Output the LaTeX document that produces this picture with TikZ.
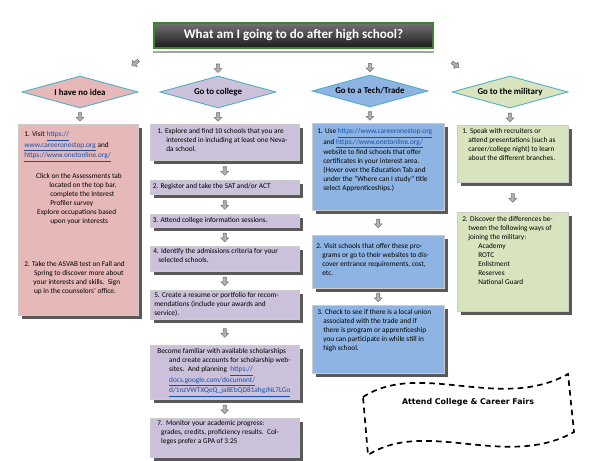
\documentclass[tikz,border=0pt]{standalone}
\usepackage{fontspec}
\setmainfont{Carlito}
\newfontfamily\fairfont{DejaVu Sans}
\usetikzlibrary{shapes,arrows,positioning,calc,shadows}
\definecolor{ideapink}{RGB}{230,185,184}
\definecolor{collegelilac}{RGB}{204,193,218}
\definecolor{techblue}{RGB}{142,180,227}
\definecolor{militarygreen}{RGB}{215,228,189}
\definecolor{diamondteal}{RGB}{75,172,198}
\definecolor{linkblue}{RGB}{20,80,175}
\definecolor{titlegreen}{RGB}{60,130,50}
\newcommand{\weblink}[1]{\textcolor{linkblue}{\underline{#1}}}

\begin{document}
\begin{tikzpicture}[x=0.025cm, y=-0.025cm,
    titlebox/.style={rectangle, draw=titlegreen, line width=0.8pt, top color=black!55, bottom color=black!90,
        minimum width=6.975cm, minimum height=0.625cm, text=white, font=\fontsize{9.3}{11}\selectfont\bfseries},
    choice/.style={diamond, draw=diamondteal, line width=0.6pt, aspect=3.6, minimum width=2.9cm,
        minimum height=0.8cm, inner sep=0pt, font=\fontsize{6.3}{7}\selectfont\bfseries},
    card/.style={rectangle, draw=black!20, line width=0.3pt, anchor=north west, inner sep=0pt,
        drop shadow={shadow xshift=2.5pt, shadow yshift=-2.5pt, fill=black!65, opacity=1}},
    cardtext/.style={anchor=north west, align=left, inner sep=0pt, font=\fontsize{5.2}{6.4}\selectfont},
    flowarrow/.style={single arrow, draw=black!55, fill=black!30, line width=0.4pt, minimum height=6pt,
        inner sep=0.9pt, single arrow head extend=1.6pt, sloped, allow upside down}]
    \useasboundingbox (0,0) rectangle (600,461);

    % Title
    \node[titlebox] (title) at (293.5,35.5) {What am I going to do after high school?};
    \draw[black!35, line width=1.2pt] ([yshift=-2.4pt]title.south west) -- ([yshift=-2.4pt]title.south east);

    % The four choices
    \node[choice, fill=ideapink] (idea) at (80,92) {I have no idea};
    \node[choice, fill=collegelilac] (college) at (218,92) {Go to college};
    \node[choice, fill=techblue] (tech) at (370,91) {Go to a Tech/Trade};
    \node[choice, fill=militarygreen] (military) at (510,92) {Go to the military};

    % Arrows from the title
    \path (title.south west) -- node[flowarrow, pos=0.4] {} (idea.north east);
    \path (title.south -| college.north) -- node[flowarrow, pos=0.7] {} (college.north);
    \path (title.south -| tech.north) -- node[flowarrow, pos=0.7] {} (tech.north);
    \path (title.south east) -- node[flowarrow, pos=0.45] {} (military.north west);

    % I have no idea
    \node[card, fill=ideapink, minimum width=3cm, minimum height=4.775cm] (ideabox) at (18,124) {};
    \node[cardtext] (ideatxt) at ([shift={(6,7.5)}]ideabox.north west) {1. Visit \weblink{https://}\\
        \weblink{www.careeronestop.org} and\\
        \weblink{https://www.onetonline.org/}\\[7pt]
        \hspace*{8.5pt}Click on the Assessments tab\\
        \hspace*{17.8pt}located on the top bar.\\
        \hspace*{18.5pt}complete the Interest\\
        \hspace*{18.5pt}Profiler survey\\
        \hspace*{9.2pt}Explore occupations based\\
        \hspace*{18.5pt}upon your interests\\[24pt]
        2. Take the ASVAB test on Fall and\\
        \hspace*{7pt}Spring to discover more about\\
        \hspace*{6.5pt}your interests and skills.\ \ Sign\\
        \hspace*{7pt}up in the counselors' office.};
    \path (idea.south) -- node[flowarrow] {} (idea.south |- ideabox.north);

    % Go to college
    \node[card, fill=collegelilac, minimum width=3.725cm, minimum height=0.9cm] (col1) at (150,124) {};
    \node[cardtext] (col1txt) at ([shift={(7,4.5)}]col1.north west) {1. Explore and find 10 schools that you are\\
        \hspace*{6.4pt}interested in including at least one Neva-\\
        \hspace*{6.4pt}da school.};
    \node[card, fill=collegelilac, minimum width=3.725cm, minimum height=0.35cm] (col2) at (150,180) {};
    \node[cardtext] (col2txt) at ([shift={(2.5,3.5)}]col2.north west) {2. Register and take the SAT and/or ACT};
    \node[card, fill=collegelilac, minimum width=3.725cm, minimum height=0.325cm] (col3) at (150,214) {};
    \node[cardtext] (col3txt) at ([shift={(2.5,3.2)}]col3.north west) {3. Attend college information sessions.};
    \node[card, fill=collegelilac, minimum width=3.725cm, minimum height=0.625cm] (col4) at (150,246) {};
    \node[cardtext] (col4txt) at ([shift={(3,2.4)}]col4.north west) {4. Identify the admissions criteria for your\\
        \hspace*{3.6pt}selected schools.};
    \node[card, fill=collegelilac, minimum width=3.725cm, minimum height=0.725cm] (col5) at (150,290) {};
    \node[cardtext] (col5txt) at ([shift={(4,2)}]col5.north west) {5. Create a resume or portfolio for recom-\\
        mendations (include your awards and\\
        service).};
    \node[card, fill=collegelilac, minimum width=3.725cm, minimum height=1.35cm] (col6) at (150,345) {};
    \node[cardtext] (col6txt) at ([shift={(7,3.5)}]col6.north west) {Become familiar with available scholarships\\
        \hspace*{8.5pt}and create accounts for scholarship web-\\
        \hspace*{8.5pt}sites.\ \ And planning \ \weblink{https://}\\
        \hspace*{8.5pt}\weblink{docs.google.com/document/}\\
        \hspace*{8.5pt}\weblink{d/1nzVWTXQeQ\_ja8EbQD81ahgJNL7LGo}};
    \node[card, fill=collegelilac, minimum width=3.725cm, minimum height=0.975cm] (col7) at (150,418) {};
    \node[cardtext] (col7txt) at ([shift={(7,2)}]col7.north west) {7.\ \ Monitor your academic progress:\\
        \hspace*{2.8pt}grades, credits, proficiency results.\ \ Col-\\
        \hspace*{2.8pt}leges prefer a GPA of 3.25};
    \path (college.south) -- node[flowarrow] {} (college.south |- col1.north);
    \path (col1.south) -- node[flowarrow] {} (col2.north);
    \path (col2.south) -- node[flowarrow] {} (col3.north);
    \path (col3.south) -- node[flowarrow] {} (col4.north);
    \path (col4.south) -- node[flowarrow] {} (col5.north);
    \path (col5.south) -- node[flowarrow] {} (col6.north);
    \path (col6.south) -- node[flowarrow] {} (col7.north);

    % Go to a Tech/Trade
    \node[card, fill=techblue, minimum width=3.3cm, minimum height=2.175cm] (tech1) at (312,123) {};
    \node[cardtext] (tech1txt) at ([shift={(5,5.5)}]tech1.north west) {1. Use \weblink{https://www.careeronestop.org}\\
        \hspace*{4.3pt}and \weblink{https://www.onetonline.org/}\\
        \hspace*{4.3pt}website to find schools that offer\\
        \hspace*{4.3pt}certificates in your interest area.\\
        \hspace*{4.3pt}(Hover over the Education Tab and\\
        \hspace*{4.3pt}under the ``Where can I study'' title\\
        \hspace*{4.3pt}select Apprenticeships.)};
    \node[card, fill=techblue, minimum width=3.3cm, minimum height=1.325cm] (tech2) at (312,235) {};
    \node[cardtext] (tech2txt) at ([shift={(4,8.5)}]tech2.north west) {2. Visit schools that offer these pro-\\
        \hspace*{4.3pt}grams or go to their websites to dis-\\
        \hspace*{4.3pt}cover entrance requirements, cost,\\
        \hspace*{4.3pt}etc.};
    \node[card, fill=techblue, minimum width=3.3cm, minimum height=1.7cm] (tech3) at (312,305) {};
    \node[cardtext] (tech3txt) at ([shift={(5,4.5)}]tech3.north west) {3. Check to see if there is a local union\\
        \hspace*{4.3pt}associated with the trade and if\\
        \hspace*{4.3pt}there is program or apprenticeship\\
        \hspace*{4.3pt}you can participate in while still in\\
        \hspace*{4.3pt}high school.};
    \path (tech.south) -- node[flowarrow] {} (tech.south |- tech1.north);
    \path (tech1.south) -- node[flowarrow] {} (tech2.north);
    \path (tech2.south) -- node[flowarrow] {} (tech3.north);

    % Go to the military
    \node[card, fill=militarygreen, minimum width=2.775cm, minimum height=1.425cm] (mil1) at (457,125) {};
    \node[cardtext] (mil1txt) at ([shift={(5,3.5)}]mil1.north west) {1. Speak with recruiters or\\
        \hspace*{4.3pt}attend presentations (such as\\
        \hspace*{4.3pt}career/college night) to learn\\
        \hspace*{4.3pt}about the different branches.};
    \node[card, fill=militarygreen, minimum width=2.775cm, minimum height=2.475cm] (mil2) at (457,212) {};
    \node[cardtext] (mil2txt) at ([shift={(5,4.5)}]mil2.north west) {2. Discover the differences be-\\
        \hspace*{4.3pt}tween the following ways of\\
        \hspace*{4.3pt}joining the military:\\
        \hspace*{11.4pt}Academy\\
        \hspace*{11.4pt}ROTC\\
        \hspace*{11.4pt}Enlistment\\
        \hspace*{11.4pt}Reserves\\
        \hspace*{11.4pt}National Guard};
    \path (military.south) -- node[flowarrow] {} (military.south |- mil1.north);
    \path (mil1.south) -- node[flowarrow] {} (mil2.north);

    % Banner
    \draw[line width=1.2pt, dash pattern=on 4pt off 3pt] (363,397)
        .. controls (420,360) and (500,412) .. (568,374) -- (574,432)
        .. controls (506,470) and (426,418) .. (368,455) -- cycle;
    \node[font=\fairfont\fontsize{5.6}{7}\selectfont\bfseries] (fairs) at (468,402) {Attend College \& Career Fairs};
\end{tikzpicture}
\end{document}
